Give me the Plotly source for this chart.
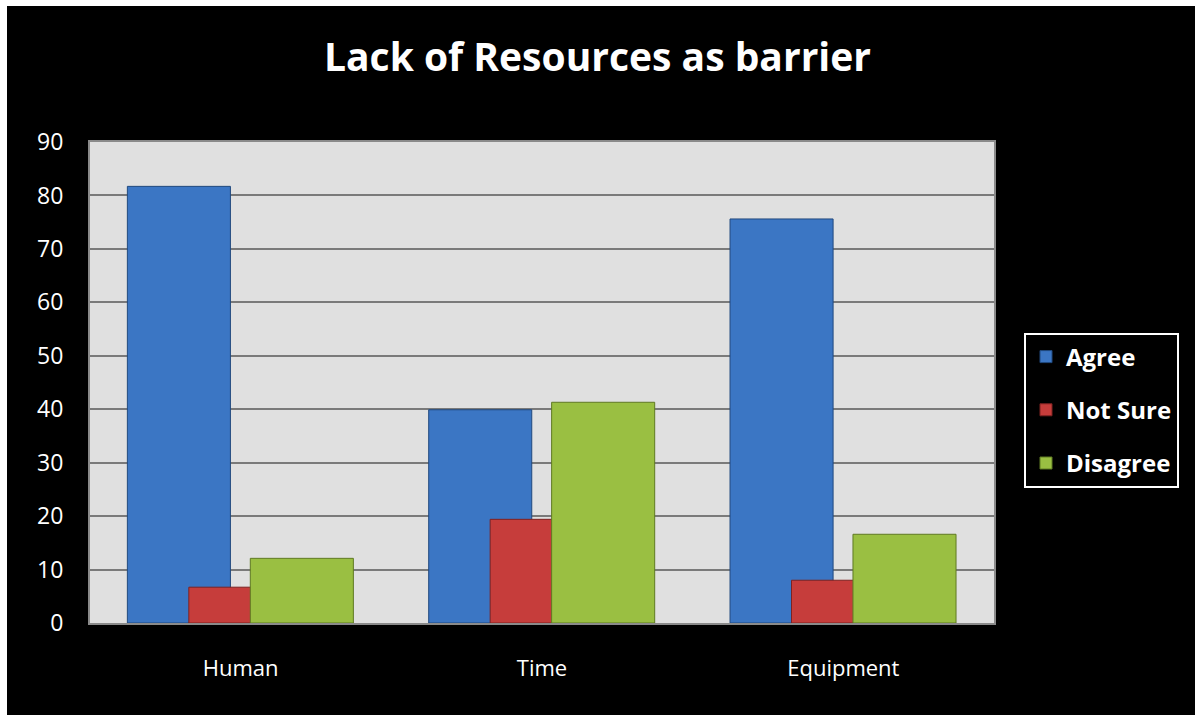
import plotly.graph_objects as go

categories = ["Human", "Time", "Equipment"]
agree = [81.7, 39.9, 75.6]
not_sure = [6.7, 19.4, 8.0]
disagree = [12.1, 41.3, 16.6]
series_names = ["Agree", "Not Sure", "Disagree"]
y_ticks = [0, 10, 20, 30, 40, 50, 60, 70, 80, 90]

colors = ["#3b76c4", "#c63d3b", "#9abf42"]
edge = ["#21497e", "#7e2221", "#5f7a22"]
offsets = [-0.376, -0.172, 0.032]
bar_w = 0.342

W, H = 1195, 715
L, R, T, B = 90, 994, 142, 623

fig = go.Figure()
for i, (name, vals) in enumerate(zip(series_names, [agree, not_sure, disagree])):
    fig.add_trace(go.Bar(
        x=categories, y=vals, name=name,
        width=bar_w, offset=offsets[i],
        marker=dict(color=colors[i], line=dict(color=edge[i], width=1)),
        legendgroup=name,
    ))

def px_x(p):
    return (p - L) / (R - L)

def px_y(p):
    return (B - p) / (B - T)

shapes = [
    # white outer margin on top and left
    dict(type="rect", xref="paper", yref="paper", x0=px_x(0), x1=px_x(7), y0=px_y(H), y1=px_y(0),
         fillcolor="white", line=dict(width=0), layer="below"),
    dict(type="rect", xref="paper", yref="paper", x0=px_x(0), x1=px_x(W), y0=px_y(6), y1=px_y(0),
         fillcolor="white", line=dict(width=0), layer="below"),
]

fig.update_layout(
    width=W, height=H,
    margin=dict(l=L, r=W - R, t=T, b=H - B, pad=0),
    paper_bgcolor="black",
    plot_bgcolor="#e0e0e0",
    barmode="overlay",
    title=dict(text="<b>Lack of Resources as barrier</b>", x=0.5, xanchor="center",
               y=1 - 57 / H, yanchor="middle",
               font=dict(family="Open Sans", size=39, color="white")),
    font=dict(family="Open Sans", color="white"),
    showlegend=True,
    legend=dict(
        x=px_x(1024), xanchor="left", y=px_y(410), yanchor="middle",
        bgcolor="black", bordercolor="white", borderwidth=2,
        font=dict(family="Open Sans", size=24, color="white", weight="bold"),
        traceorder="grouped", tracegroupgap=19,
    ),
    shapes=shapes,
    xaxis=dict(
        range=[-0.5, 2.5], showgrid=False, showline=True, linecolor="#8a8a8a", linewidth=2,
        mirror=True, ticks="", tickfont=dict(family="Open Sans", size=22, color="white"),
        ticklabelstandoff=25,
    ),
    yaxis=dict(
        range=[0, 90], tickvals=y_ticks, showgrid=True, gridcolor="#7a7a7a", gridwidth=2,
        showline=True, linecolor="#8a8a8a", linewidth=2, mirror=True, zeroline=False,
        ticks="", tickfont=dict(family="Open Sans", size=23, color="white"),
        ticklabelstandoff=20,
    ),
)

fig.write_html(
    "out.html",
    config={"displayModeBar": False},
    post_script=(
        "document.body.style.margin='0';"
        "document.body.style.overflow='hidden';"
        "document.body.style.background='black';"
        "document.documentElement.style.background='black';"
    ),
)
